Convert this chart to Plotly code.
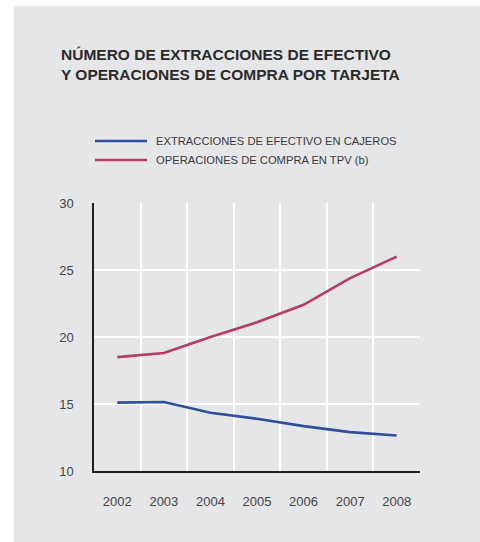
import plotly.graph_objects as go

years = ["2002", "2003", "2004", "2005", "2006", "2007", "2008"]
cajeros = [15.1, 15.15, 14.35, 13.9, 13.35, 12.9, 12.65]
tpv = [18.5, 18.8, 20.0, 21.1, 22.4, 24.4, 26.0]
series_names = ["EXTRACCIONES DE EFECTIVO EN CAJEROS", "OPERACIONES DE COMPRA EN TPV (b)"]
series_colors = ["#2f4f9b", "#b93a63"]
y_ticks = [10, 15, 20, 25, 30]
title_lines = ["NÚMERO DE EXTRACCIONES DE EFECTIVO", "Y OPERACIONES DE COMPRA POR TARJETA"]

W, H = 480, 542
L, R, T, B = 94, 60, 203, 71
pw, ph = W - L - R, H - T - B

def px(x):
    return (x - L) / pw

def py(y):
    return (H - B - y) / ph

FONT = "Liberation Sans, Arial, sans-serif"
GRAY = "#e5e6e8"

fig = go.Figure()
for name, vals, col in zip(series_names, [cajeros, tpv], series_colors):
    fig.add_trace(go.Scatter(x=years, y=vals, mode="lines", name=name,
                             line=dict(color=col, width=2.6), showlegend=False))

shapes = [
    dict(type="rect", xref="paper", yref="paper", x0=px(-5), x1=px(14), y0=py(H + 5), y1=py(-5),
         fillcolor="white", line=dict(width=0), layer="below"),
    dict(type="rect", xref="paper", yref="paper", x0=px(-5), x1=px(W + 5), y0=py(6), y1=py(-5),
         fillcolor="white", line=dict(width=0), layer="below"),
]
annotations = []
for i, (name, col) in enumerate(zip(series_names, series_colors)):
    yy = 141 + i * 19
    shapes.append(dict(type="line", xref="paper", yref="paper", x0=px(95), x1=px(147),
                       y0=py(yy), y1=py(yy), line=dict(color=col, width=2.6)))
    annotations.append(dict(xref="paper", yref="paper", x=px(154), y=py(yy), xanchor="left",
                            yanchor="middle", text=name, showarrow=False,
                            font=dict(family=FONT, size=11.2, color="#3a3a3a")))
annotations.append(dict(xref="paper", yref="paper", x=px(59), y=py(64.5), xanchor="left", yanchor="middle",
                        align="left", text="<br>".join(title_lines), showarrow=False,
                        font=dict(family=FONT, size=15.5, color="#2a2a2a", weight="bold")))

fig.update_layout(
    width=W, height=H, margin=dict(l=L, r=R, t=T, b=B),
    paper_bgcolor=GRAY, plot_bgcolor=GRAY,
    shapes=shapes, annotations=annotations,
    font=dict(family=FONT, color="#444444", size=13),
    xaxis=dict(type="category", range=[-0.5, 6.5], tickson="boundaries", showgrid=True,
               gridcolor="white", gridwidth=2, showline=True, linecolor="#231f20", linewidth=1.5,
               ticks="", ticklabelstandoff=18, zeroline=False, fixedrange=True),
    yaxis=dict(range=[10, 30], tickvals=y_ticks, showgrid=True, gridcolor="white", gridwidth=2,
               showline=True, linecolor="#231f20", linewidth=1.5, ticks="",
               ticklabelstandoff=16, zeroline=False, fixedrange=True),
)
fig.write_html("out.html", config={"displayModeBar": False},
               post_script="document.body.style.margin='0';document.body.style.overflow='hidden';"
                           "document.body.style.background='" + GRAY + "';"
                           "document.documentElement.style.background='" + GRAY + "';")
